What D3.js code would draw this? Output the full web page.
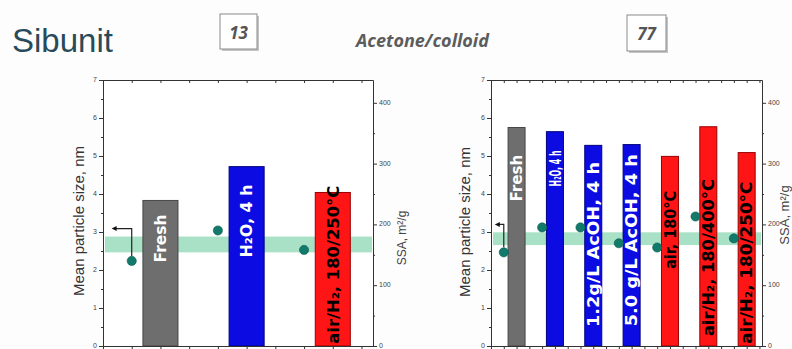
<!DOCTYPE html>
<html>
<head>
<meta charset="utf-8">
<script src="https://cdn.jsdelivr.net/npm/d3@7"></script>
<style>
  body { margin: 0; background: #fdfdfd; }
  svg { display: block; }
</style>
</head>
<body>
<div id="chart"></div>
<script>
// values
var leftLabels = ["Fresh", "H₂O, 4 h", "air/H₂, 180/250°C"];
var leftKind = ["fresh", "liquid", "gas"];
var leftSize = [3.83, 4.72, 4.04];     // mean particle size, nm
var leftSSA = [140, 190, 158];         // m2/g
var leftBand = [154, 180];

var rightLabels = ["Fresh", "H₂O, 4 h", "1.2g/L AcOH, 4 h", "5.0 g/L AcOH, 4 h",
                   "air, 180°C", "air/H₂, 180/400°C", "air/H₂, 180/250°C"];
var rightKind = ["fresh", "liquid", "liquid", "liquid", "gas", "gas", "gas"];
var rightSize = [5.75, 5.64, 5.28, 5.30, 4.99, 5.77, 5.09];
var rightSSA = [154, 195, 195, 169, 162, 213, 177];
var rightBand = [166, 187];

var sizeTicks = [0, 1, 2, 3, 4, 5, 6, 7];
var ssaTicks = [0, 100, 200, 300, 400];

var svgWidth = 792;
var svgHeight = 349;

var colors = {
  fresh: { fill: "#6e6e6e", stroke: "#474747", text: "#ffffff" },
  liquid: { fill: "#0c0ce2", stroke: "#00007a", text: "#ffffff" },
  gas: { fill: "#ff1515", stroke: "#9a0000", text: "#000000" }
};

var svg = d3.select("#chart").append("svg")
    .attr("width", svgWidth)
    .attr("height", svgHeight);

// header
svg.append("text")
    .attr("x", 12).attr("y", 52)
    .style("font-family", "Liberation Sans, Arial, sans-serif")
    .style("font-size", "33px")
    .style("fill", "#284b5a")
    .text("Sibunit");

svg.append("text")
    .attr("x", 356).attr("y", 47)
    .style("font-family", "Open Sans, sans-serif")
    .style("font-size", "18px")
    .style("font-weight", "bold")
    .style("font-style", "italic")
    .style("fill", "#5c5c5c")
    .text("Acetone/colloid");

function numberBox(x, y, w, h, label) {
  svg.append("rect")
    .attr("x", x + 2).attr("y", y + 2).attr("width", w).attr("height", h)
    .style("fill", "#c4c4c4");
  svg.append("rect")
    .attr("x", x).attr("y", y).attr("width", w).attr("height", h)
    .style("fill", "#ffffff").style("stroke", "#8a8a8a");
  svg.append("text")
    .attr("x", x + w / 2).attr("y", y + 25)
    .attr("text-anchor", "middle")
    .style("font-family", "Open Sans, sans-serif")
    .style("font-size", "17px")
    .style("font-weight", "bold")
    .style("font-style", "italic")
    .style("fill", "#555")
    .text(label);
}
numberBox(220, 14, 37, 35, "13");
numberBox(627, 15, 39, 36, "77");

var plotTop = 80;
var plotBottom = 346;

var panels = [
  {
    x0: 103, x1: 373, xMax: 9.4, barUnits: 1.22,
    labels: leftLabels, kind: leftKind, size: leftSize, ssa: leftSSA, band: leftBand,
    arrowAt: 3.09,
    // [start of label in nm units, label length in px]
    labelFit: [[2.2, 48], [2.33, 73], [0.06, 158]],
    sizeTitleX: 84, sizeTitleY: 221,
    ssaTitleX: 406, ssaTitleY: 238, ssaTitleSize: 12
  },
  {
    x0: 491, x1: 762, xMax: 21.2, barUnits: 1.33,
    labels: rightLabels, kind: rightKind, size: rightSize, ssa: rightSSA, band: rightBand,
    arrowAt: 3.2,
    labelFit: [[3.8, 47], [4.2, 36], [0.5, 165], [0.52, 172], [2.03, 78], [0.26, 157], [0.06, 162]],
    sizeTitleX: 470, sizeTitleY: 222,
    ssaTitleX: 789, ssaTitleY: 215, ssaTitleSize: 13
  }
];

panels.forEach(function(p) {
  var xScale = d3.scaleLinear().domain([0, p.xMax]).range([p.x0, p.x1]);
  var yScale = d3.scaleLinear().domain([0, 7]).range([plotBottom, plotTop]);
  var ssaScale = d3.scaleLinear().domain([0, 437.5]).range([plotBottom, plotTop]);

  var g = svg.append("g");

  // plot background
  g.append("rect")
    .attr("x", p.x0).attr("y", plotTop)
    .attr("width", p.x1 - p.x0).attr("height", plotBottom - plotTop)
    .style("fill", "#ffffff");

  // green SSA band of the support
  g.append("rect")
    .attr("x", p.x0 + 2)
    .attr("y", ssaScale(p.band[1]))
    .attr("width", p.x1 - p.x0 - 3)
    .attr("height", ssaScale(p.band[0]) - ssaScale(p.band[1]))
    .style("fill", "#a9e1c6");

  var barW = xScale(p.barUnits) - xScale(0);

  // bars
  g.selectAll(".bar")
    .data(p.size)
    .enter()
    .append("rect")
    .attr("class", "bar")
    .attr("x", (d, i) => xScale(3 * i + 2) - barW / 2)
    .attr("y", d => yScale(d))
    .attr("width", barW)
    .attr("height", d => yScale(0) - yScale(d))
    .style("fill", (d, i) => colors[p.kind[i]].fill)
    .style("stroke", (d, i) => colors[p.kind[i]].stroke)
    .style("stroke-width", 1);

  // bar labels
  g.selectAll(".blabel")
    .data(p.labels)
    .enter()
    .append("text")
    .attr("class", "blabel")
    .attr("transform", (d, i) => `translate(${xScale(3 * i + 2)}, ${yScale(p.labelFit[i][0])}) rotate(-90)`)
    .attr("dy", "0.36em")
    .attr("textLength", (d, i) => p.labelFit[i][1])
    .attr("lengthAdjust", "spacingAndGlyphs")
    .style("font-family", "DejaVu Sans, sans-serif")
    .style("font-size", "16px")
    .style("font-weight", "bold")
    .style("fill", (d, i) => colors[p.kind[i]].text)
    .text(d => d);

  // arrow from first point to the left axis
  var ax = xScale(1);
  var ay = yScale(p.arrowAt);
  var tipX = xScale(0.3);
  g.append("path")
    .attr("d", `M${ax},${ssaScale(p.ssa[0]) - 5} L${ax},${ay} L${tipX + 4},${ay}`)
    .style("fill", "none")
    .style("stroke", "#222")
    .style("stroke-width", 1.2);
  g.append("path")
    .attr("d", `M${tipX},${ay} L${tipX + 5},${ay - 2.5} L${tipX + 5},${ay + 2.5} Z`)
    .style("fill", "#111");

  // SSA points
  g.selectAll(".pt")
    .data(p.ssa)
    .enter()
    .append("circle")
    .attr("class", "pt")
    .attr("cx", (d, i) => xScale(3 * i + 1))
    .attr("cy", d => ssaScale(d))
    .attr("r", 4.6)
    .style("fill", "#117a6b")
    .style("stroke", "#0b5d52")
    .style("stroke-width", 0.6);

  // axes
  var xTicks = d3.range(0, Math.floor(p.xMax) + 1);
  var minorSize = d3.range(0.5, 7, 1);
  var minorSSA = d3.range(50, 437, 100);

  function styleAxis(sel) {
    sel.selectAll("path, line").style("stroke", "#333").style("stroke-width", 1);
    sel.selectAll("text")
      .attr("dy", "0.2em")
      .style("font-family", "Liberation Sans, Arial, sans-serif")
      .style("font-size", "7px")
      .style("fill", "#444");
  }

  g.append("g")
    .attr("transform", `translate(0, ${plotBottom})`)
    .call(d3.axisBottom(xScale).tickValues(xTicks).tickSize(3).tickSizeOuter(0).tickFormat(""))
    .call(styleAxis);

  g.append("g")
    .attr("transform", `translate(0, ${plotTop})`)
    .call(d3.axisTop(xScale).tickValues(xTicks).tickSize(-3).tickSizeOuter(0).tickFormat(""))
    .call(styleAxis);

  g.append("g")
    .attr("transform", `translate(${p.x0}, 0)`)
    .call(d3.axisLeft(yScale).tickValues(sizeTicks).tickSize(4).tickSizeOuter(0)
      .tickPadding(2).tickFormat(d3.format("d")))
    .call(styleAxis);
  g.append("g")
    .attr("transform", `translate(${p.x0}, 0)`)
    .call(d3.axisLeft(yScale).tickValues(minorSize).tickSize(2).tickFormat(""))
    .call(styleAxis)
    .select(".domain").remove();

  g.append("g")
    .attr("transform", `translate(${p.x1}, 0)`)
    .call(d3.axisRight(ssaScale).tickValues(ssaTicks).tickSize(4).tickSizeOuter(0)
      .tickPadding(2).tickFormat(d3.format("d")))
    .call(styleAxis);
  g.append("g")
    .attr("transform", `translate(${p.x1}, 0)`)
    .call(d3.axisRight(ssaScale).tickValues(minorSSA).tickSize(2).tickFormat(""))
    .call(styleAxis)
    .select(".domain").remove();

  // axis titles
  g.append("text")
    .attr("transform", `translate(${p.sizeTitleX}, ${p.sizeTitleY}) rotate(-90)`)
    .attr("text-anchor", "middle")
    .style("font-family", "Liberation Sans, Arial, sans-serif")
    .style("font-size", "15px")
    .style("fill", "#333")
    .text("Mean particle size, nm");

  g.append("text")
    .attr("transform", `translate(${p.ssaTitleX}, ${p.ssaTitleY}) rotate(-90)`)
    .attr("text-anchor", "middle")
    .style("font-family", "Liberation Sans, Arial, sans-serif")
    .style("font-size", p.ssaTitleSize + "px")
    .style("fill", "#444")
    .text("SSA, m²/g");
});
</script>
</body>
</html>
